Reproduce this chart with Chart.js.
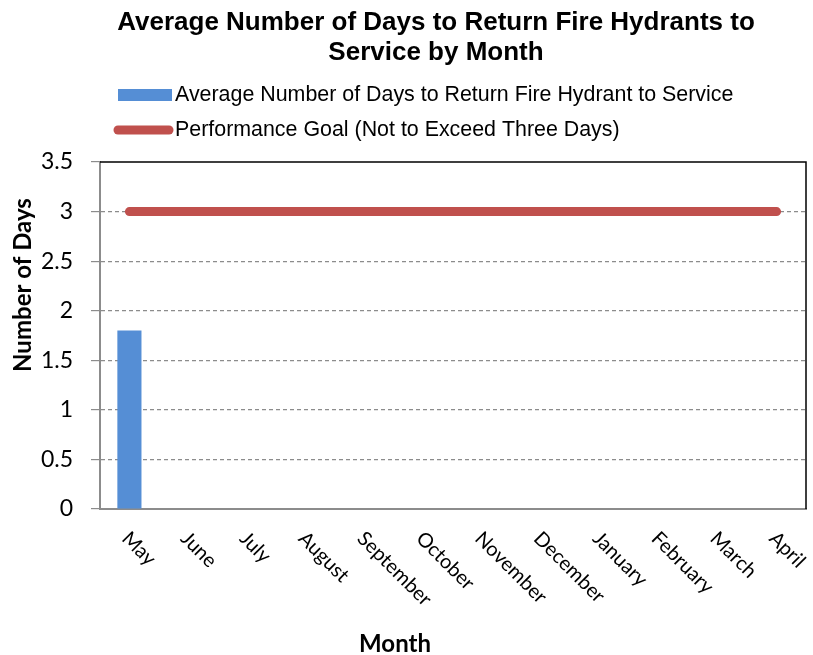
<!DOCTYPE html>
<html>
<head>
<meta charset="utf-8">
<script src="https://cdn.jsdelivr.net/npm/chart.js@4.4.1/dist/chart.umd.min.js"></script>
<style>
  html, body { margin: 0; padding: 0; background: #fff; }
  #wrap { position: relative; width: 813px; height: 655px; }
</style>
</head>
<body>
<div id="wrap"><canvas id="hydrantChart" width="813" height="655"></canvas></div>
<script>
// chart data
var months = ['May', 'June', 'July', 'August', 'September', 'October', 'November',
    'December', 'January', 'February', 'March', 'April'];
var avgDays = [1.8, null, null, null, null, null, null, null, null, null, null, null];
var goalDays = [3, 3, 3, 3, 3, 3, 3, 3, 3, 3, 3, 3];
var titleLines = ['Average Number of Days to Return Fire Hydrants to', 'Service by Month'];
var barLabel = 'Average Number of Days to Return Fire Hydrant to Service';
var goalLabel = 'Performance Goal (Not to Exceed Three Days)';

var BLUE = '#558ED5';
var RED = '#C0504D';
var GRID = '#8c8c8c';
var ARIAL = '"Liberation Sans", Arial, sans-serif';
var CAL = 'Lato, "Open Sans", sans-serif';

// titles, legend, rotated month labels and the black frame
var decorPlugin = {
    id: 'decor',
    afterDraw: function (chart) {
        var ctx = chart.ctx;
        var area = chart.chartArea;
        var xs = chart.scales.x;
        ctx.save();

        // top and right frame
        ctx.strokeStyle = '#000';
        ctx.lineWidth = 1.5;
        ctx.beginPath();
        ctx.moveTo(area.left, area.top);
        ctx.lineTo(area.right, area.top);
        ctx.lineTo(area.right, area.bottom);
        ctx.stroke();

        // title
        ctx.fillStyle = '#000';
        ctx.textAlign = 'center';
        ctx.textBaseline = 'middle';
        ctx.font = 'bold 26px ' + ARIAL;
        ctx.fillText(titleLines[0], 436, 23);
        ctx.fillText(titleLines[1], 436, 53);

        // legend
        ctx.fillStyle = BLUE;
        ctx.fillRect(118, 89, 54, 12);
        ctx.strokeStyle = RED;
        ctx.lineWidth = 9;
        ctx.lineCap = 'round';
        ctx.beginPath();
        ctx.moveTo(118, 130);
        ctx.lineTo(169, 130);
        ctx.stroke();
        ctx.fillStyle = '#000';
        ctx.textAlign = 'left';
        ctx.font = '21.4px ' + ARIAL;
        ctx.fillText(barLabel, 175, 95);
        ctx.fillText(goalLabel, 175, 130);

        // x labels, rotated down to the right
        ctx.font = '20px ' + CAL;
        ctx.textBaseline = 'top';
        months.forEach(function (m, i) {
            var px = xs.getPixelForValue(i);
            ctx.save();
            ctx.translate(px + 3, 528);
            ctx.rotate(Math.PI / 4);
            ctx.fillText(m, 0, 0);
            ctx.restore();
        });

        // axis titles
        ctx.font = 'bold 24px ' + CAL;
        ctx.textAlign = 'center';
        ctx.textBaseline = 'middle';
        ctx.fillText('Month', 395, 644);
        ctx.save();
        ctx.translate(23, 285);
        ctx.rotate(-Math.PI / 2);
        ctx.fillText('Number of Days', 0, 0);
        ctx.restore();

        ctx.restore();
    }
};

function isEdge(ctx) {
    return ctx.tick && (ctx.tick.value === 0 || ctx.tick.value === 3.5);
}

document.addEventListener('DOMContentLoaded', function () {
    var el = document.getElementById('hydrantChart');
    new Chart(el.getContext('2d'), {
        type: 'bar',
        data: {
            labels: months,
            datasets: [
                {
                    type: 'line',
                    label: goalLabel,
                    data: goalDays,
                    borderColor: RED,
                    borderWidth: 9,
                    borderCapStyle: 'round',
                    pointRadius: 0,
                    fill: false,
                    order: 0
                },
                {
                    type: 'bar',
                    label: barLabel,
                    data: avgDays,
                    backgroundColor: BLUE,
                    borderWidth: 0,
                    categoryPercentage: 1,
                    barPercentage: 0.41,
                    order: 1
                }
            ]
        },
        options: {
            responsive: false,
            animation: false,
            layout: { padding: { top: 162, right: 7, left: 0, bottom: 0 } },
            plugins: {
                legend: { display: false },
                title: { display: false },
                tooltip: { enabled: false }
            },
            scales: {
                x: {
                    offset: true,
                    grid: { display: false },
                    border: { color: GRID, width: 2 },
                    ticks: { display: false },
                    afterFit: function (s) { s.height = 146; }
                },
                y: {
                    min: 0,
                    max: 3.5,
                    ticks: {
                        stepSize: 0.5,
                        padding: 18,
                        color: '#000',
                        font: { family: CAL, size: 23 },
                        callback: function (v) { return String(v); }
                    },
                    grid: {
                        color: function (c) { return isEdge(c) ? 'rgba(0,0,0,0)' : GRID; },
                        tickColor: GRID,
                        tickLength: 9,
                        tickBorderDash: [],
                        lineWidth: 1.2
                    },
                    border: { color: GRID, width: 2, dash: [4, 3] },
                    afterFit: function (s) { s.width = 100; }
                }
            }
        },
        plugins: [decorPlugin]
    });
});
</script>
</body>
</html>
